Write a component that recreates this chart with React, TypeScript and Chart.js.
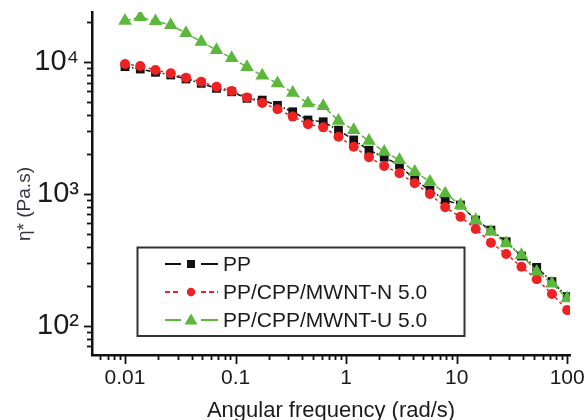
import React, { useEffect, useRef } from 'react';
import { Chart, registerables } from 'chart.js';

Chart.register(...registerables);

const FONT = "'Liberation Sans', Arial, Helvetica, sans-serif";

// Angular frequency (rad/s)
const frequencies = [
  0.01, 0.01374, 0.01887, 0.02593, 0.03562, 0.04894, 0.06723, 0.09237, 0.1269, 0.1743,
  0.2395, 0.329, 0.452, 0.621, 0.8532, 1.172, 1.61, 2.212, 3.039, 4.175,
  5.736, 7.88, 10.83, 14.87, 20.43, 28.07, 38.57, 52.98, 72.79, 100,
];

// Complex viscosity η* (Pa.s)
const ppValues = [
  9230, 8850, 8360, 7980, 7440, 6900, 6320, 5950, 5310, 5150,
  4700, 4200, 3640, 3530, 3050, 2570, 2150, 1900, 1660, 1280,
  1072, 901, 826, 635, 533, 435, 339, 278, 217, 167,
];
const mwntNValues = [
  9660, 9330, 8700, 8210, 7600, 7100, 6500, 6030, 5400, 4900,
  4390, 3860, 3380, 3200, 2720, 2280, 1900, 1630, 1436, 1206,
  1000, 794, 673, 543, 428, 351, 281, 226, 175, 132,
];
const mwntUValues = [
  20500, 21900, 20400, 19060, 16600, 14250, 12330, 10720, 9170, 7900,
  6900, 5850, 4860, 4640, 3590, 3050, 2530, 2090, 1810, 1476,
  1240, 1010, 826, 635, 518, 423, 345, 258, 210, 162,
];

const seriesLabels = ['PP', 'PP/CPP/MWNT-N 5.0', 'PP/CPP/MWNT-U 5.0'];

const xTickValues = [0.01, 0.1, 1, 10, 100];
const xTickLabels = ['0.01', '0.1', '1', '10', '100'];
const yTickValues = [100, 1000, 10000];
const yTickLabels = ['10²', '10³', '10⁴'];

const xAxisTitle = 'Angular frequency (rad/s)';
const yAxisTitle = 'η* (Pa.s)';

const COLORS = ['#111111', '#ee2222', '#5cb83c'];
const DASHES = [[5, 2, 1.5, 2], [3, 3], [6, 3]];
const POINT_STYLES = ['rect', 'circle', 'triangle'];

const decorPlugin = {
  id: 'decor',
  afterDraw(chart: any) {
    const ctx = chart.ctx as CanvasRenderingContext2D;
    const { left, bottom } = chart.chartArea;
    const xs = chart.scales.x;
    const ys = chart.scales.y;
    ctx.save();
    ctx.strokeStyle = '#111';
    ctx.lineWidth = 1.8;
    // x ticks (outward, below axis)
    for (let d = 0.001; d <= 100; d *= 10) {
      for (let m = 1; m <= 9; m++) {
        const v = m * d;
        if (v < xs.min * 0.999 || v > xs.max) continue;
        const px = Math.round(xs.getPixelForValue(v)) + 0.5;
        const len = m === 1 ? 9 : 5;
        ctx.beginPath();
        ctx.moveTo(px, bottom);
        ctx.lineTo(px, bottom + len);
        ctx.stroke();
      }
    }
    // y ticks (outward, left of axis)
    for (let d = 10; d <= 10000; d *= 10) {
      for (let m = 1; m <= 9; m++) {
        const v = m * d;
        if (v < ys.min * 0.999 || v > ys.max) continue;
        const py = Math.round(ys.getPixelForValue(v)) + 0.5;
        const len = m === 1 ? 8 : 5;
        ctx.beginPath();
        ctx.moveTo(left, py);
        ctx.lineTo(left - len, py);
        ctx.stroke();
      }
    }

    // y axis title
    ctx.save();
    ctx.translate(25, 204);
    ctx.rotate(-Math.PI / 2);
    ctx.fillStyle = '#333344';
    ctx.font = `19px ${FONT}`;
    ctx.textAlign = 'center';
    ctx.textBaseline = 'middle';
    ctx.fillText(yAxisTitle, 0, 0);
    ctx.restore();

    // legend
    const bx = 137.5, by = 247.5, bw = 327, bh = 88.5;
    ctx.fillStyle = '#ffffff';
    ctx.fillRect(bx, by, bw, bh);
    ctx.strokeStyle = '#333';
    ctx.lineWidth = 2;
    ctx.setLineDash([]);
    ctx.strokeRect(bx, by, bw, bh);
    const rows = [264, 292, 320];
    seriesLabels.forEach((label, i) => {
      const y = rows[i];
      const c = COLORS[i];
      ctx.strokeStyle = c;
      ctx.fillStyle = c;
      ctx.lineWidth = 2;
      ctx.setLineDash(i === 1 ? [5, 3] : []);
      ctx.beginPath();
      ctx.moveTo(165, y);
      ctx.lineTo(181, y);
      ctx.moveTo(201, y);
      ctx.lineTo(218, y);
      ctx.stroke();
      ctx.setLineDash([]);
      ctx.beginPath();
      if (i === 0) {
        ctx.rect(187, y - 4, 8, 8);
      } else if (i === 1) {
        ctx.arc(191, y, 4.2, 0, Math.PI * 2);
      } else {
        ctx.moveTo(191, y - 6.5);
        ctx.lineTo(197.5, y + 4.5);
        ctx.lineTo(184.5, y + 4.5);
        ctx.closePath();
      }
      ctx.fill();
      ctx.fillStyle = '#1a1a1a';
      ctx.font = `21px ${FONT}`;
      ctx.textAlign = 'left';
      ctx.textBaseline = 'middle';
      ctx.fillText(label, 223, y + 1);
    });
    ctx.restore();
  },
};

export default function App() {
  const canvasRef = useRef<HTMLCanvasElement | null>(null);

  useEffect(() => {
    const canvas = canvasRef.current;
    if (!canvas) return;
    const seriesValues = [ppValues, mwntNValues, mwntUValues];
    const chart = new Chart(canvas, {
      type: 'line',
      data: {
        datasets: seriesLabels.map((label, i) => ({
          label,
          data: frequencies.map((f, j) => ({ x: f, y: seriesValues[i][j] })),
          borderColor: COLORS[i],
          backgroundColor: COLORS[i],
          borderWidth: 1.5,
          borderDash: DASHES[i],
          pointStyle: POINT_STYLES[i] as any,
          pointRadius: i === 0 ? 6.2 : i === 1 ? 5 : 7.8,
          pointBorderWidth: 0,
          pointBackgroundColor: COLORS[i],
          tension: 0,
          order: 2 - i,
        })),
      },
      options: {
        responsive: false,
        animation: false,
        devicePixelRatio: 1,
        layout: { padding: { top: 12, right: 18, left: 0, bottom: 0 } },
        plugins: {
          legend: { display: false },
          tooltip: { enabled: false },
        },
        scales: {
          x: {
            type: 'logarithmic',
            position: 'bottom',
            min: 0.00503,
            max: 106,
            afterBuildTicks: (s: any) => {
              s.ticks = xTickValues.map((v) => ({ value: v }));
            },
            afterFit: (s: any) => {
              s.height = 65;
              s.paddingLeft = 0;
              s.paddingRight = 0;
            },
            ticks: {
              autoSkip: false,
              maxRotation: 0,
              minRotation: 0,
              padding: 11,
              color: '#1a1a1a',
              font: { family: FONT, size: 21 },
              callback: (v: any) => xTickLabels[xTickValues.indexOf(Number(v))] ?? '',
            },
            grid: { display: false, drawTicks: false },
            border: { display: true, color: '#111', width: 2.5 },
            title: {
              display: true,
              text: xAxisTitle,
              color: '#1a1a1a',
              font: { family: FONT, size: 22 },
              padding: { top: 0, bottom: -4 },
            },
          },
          y: {
            type: 'logarithmic',
            position: 'left',
            min: 60.3,
            max: 23950,
            afterBuildTicks: (s: any) => {
              s.ticks = yTickValues.map((v) => ({ value: v }));
            },
            afterFit: (s: any) => {
              s.width = 92;
              s.paddingTop = 0;
              s.paddingBottom = 0;
            },
            ticks: {
              padding: 13,
              color: '#1a1a1a',
              font: { family: FONT, size: 29 },
              callback: (v: any) => yTickLabels[yTickValues.indexOf(Number(v))] ?? '',
            },
            grid: { display: false, drawTicks: false },
            border: { display: true, color: '#111', width: 2.5 },
          },
        },
      },
      plugins: [decorPlugin],
    } as any);
    return () => chart.destroy();
  }, []);

  return (
    <div style={{ position: 'fixed', left: 0, top: 0, width: 588, height: 420, background: '#ffffff' }}>
      <canvas ref={canvasRef} width={588} height={420} style={{ display: 'block' }} />
    </div>
  );
}
